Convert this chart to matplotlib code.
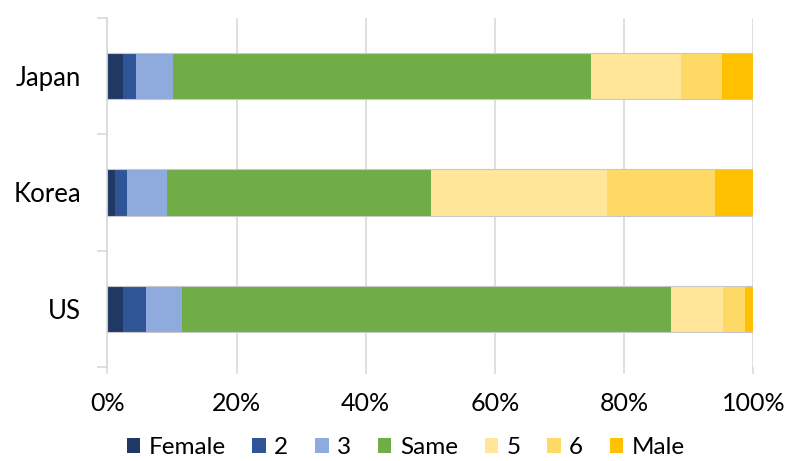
import numpy as np
import matplotlib.pyplot as plt
from matplotlib.ticker import PercentFormatter

plt.rcParams['font.family'] = ['Lato', 'DejaVu Sans']

countries = ['Japan', 'Korea', 'US']
series = ['Female', '2', '3', 'Same', '5', '6', 'Male']
colors = ['#1F3864', '#2F5597', '#8FAADC', '#70AD47', '#FFE699', '#FFD966', '#FFC000']

female = [2.5, 1.2, 2.4]
s2 = [2.0, 1.8, 3.6]
s3 = [5.7, 6.3, 5.5]
same = [64.7, 40.7, 75.7]
s5 = [13.9, 27.3, 8.1]
s6 = [6.3, 16.7, 3.4]
male = [4.9, 5.9, 1.3]

data = np.array([female, s2, s3, same, s5, s6, male])
data = data / data.sum(axis=0) * 100

fig = plt.figure(figsize=(7.89, 4.61), dpi=100)
ax = fig.add_axes([0.136, 0.203, 0.819, 0.759])

y = np.arange(len(countries))
left = np.zeros(len(countries))
for vals, name, c in zip(data, series, colors):
    ax.barh(y, vals, left=left, height=0.4, color=c, label=name, zorder=3)
    left += vals
ax.barh(y, left, height=0.4, fill=False, edgecolor='#c8c8c8', linewidth=0.8, zorder=4)

ax.set_xlim(0, 100)
ax.set_ylim(2.5, -0.5)
ax.set_xticks(np.arange(0, 101, 20))
ax.xaxis.set_major_formatter(PercentFormatter(decimals=0))
ax.set_yticks(y)
ax.set_yticklabels(countries)
ax.set_yticks([-0.5, 0.5, 1.5, 2.5], minor=True)

ax.grid(axis='x', color='#d9d9d9', linewidth=1.2, zorder=0)
for s in ['top', 'right', 'bottom']:
    ax.spines[s].set_visible(False)
ax.spines['left'].set_color('#d9d9d9')
ax.spines['left'].set_linewidth(1.2)

ax.tick_params(axis='y', which='major', length=0, labelsize=18.5, pad=19)
ax.tick_params(axis='y', which='minor', length=7, color='#d9d9d9', width=1.2)
ax.tick_params(axis='x', length=5, color='#d9d9d9', width=1.2, labelsize=18, pad=13)

ax.legend(loc='center', bbox_to_anchor=(0.462, -0.23), ncol=7, frameon=False,
          fontsize=17.5, handlelength=0.55, handleheight=0.55, handletextpad=0.35,
          columnspacing=1.1, borderaxespad=0, borderpad=0)

fig.savefig('out.png', dpi=100)
